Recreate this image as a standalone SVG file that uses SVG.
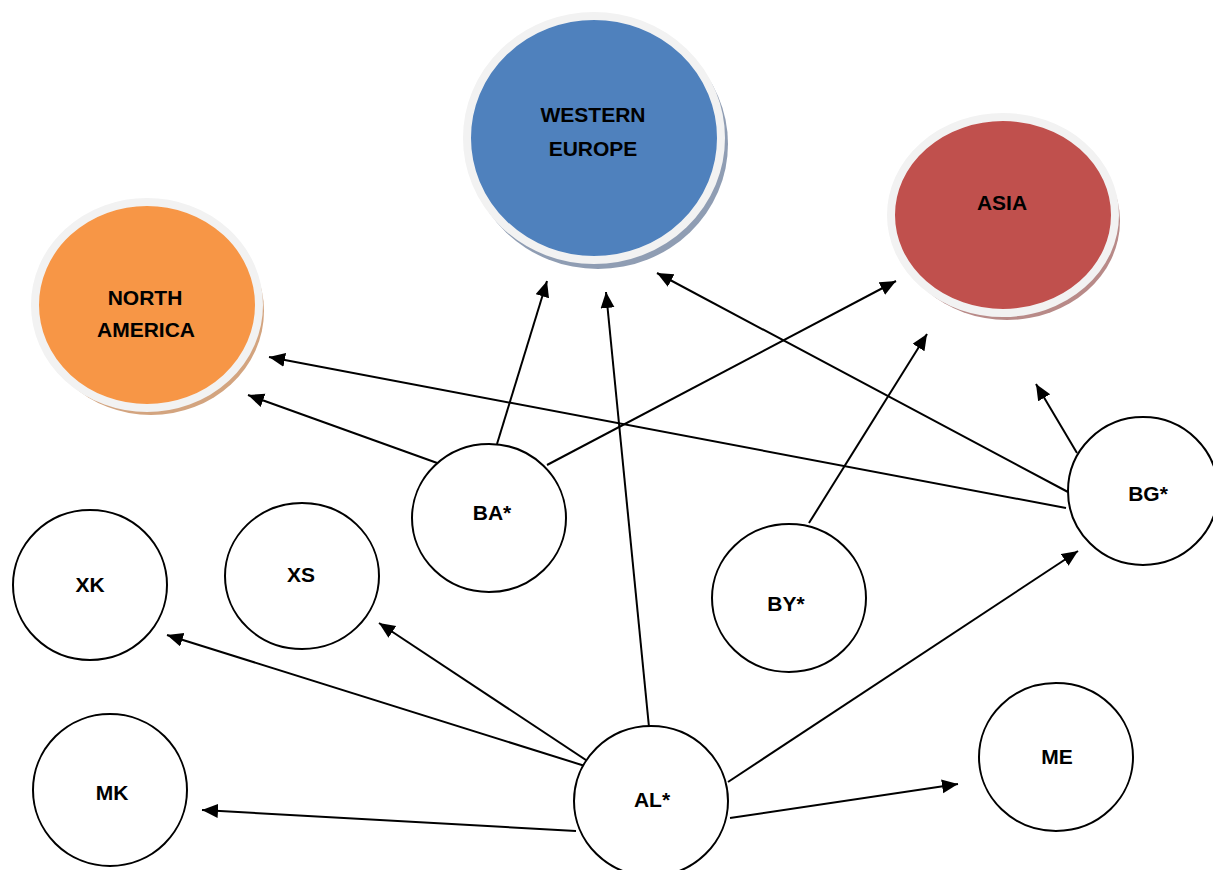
<svg xmlns="http://www.w3.org/2000/svg" width="1213" height="870" viewBox="0 0 1213 870">
<style>
.lbl{font-family:"Liberation Sans",Arial,sans-serif;font-weight:bold;font-size:21px;fill:#000;text-anchor:middle}
.small{fill:#fff;stroke:#000;stroke-width:2}
.ring{stroke:#f2f2f2;stroke-width:8}
.conn line{stroke:#000;stroke-width:2;marker-end:url(#ah)}
</style>
<defs>
<marker id="ah" markerUnits="userSpaceOnUse" markerWidth="17" markerHeight="15" refX="16" refY="7" orient="auto">
<path d="M0,0 L16,7 L0,14 z" fill="#000"/>
</marker>
</defs>
<rect width="1213" height="870" fill="#fff"/>

<g id="western-europe">
<ellipse cx="598" cy="144" rx="130" ry="125" fill="#8f9db3"/>
<ellipse cx="594" cy="138" rx="127" ry="122" fill="#4f81bd" class="ring"/>
<text class="lbl" x="593" y="122">WESTERN</text>
<text class="lbl" x="593" y="156">EUROPE</text>
</g>

<g id="north-america">
<ellipse cx="151" cy="311" rx="113" ry="104" fill="#d3a47f"/>
<ellipse cx="147" cy="305" rx="112" ry="103" fill="#f79646" class="ring"/>
<text class="lbl" x="145" y="305">NORTH</text>
<text class="lbl" x="146" y="337">AMERICA</text>
</g>

<g id="asia">
<ellipse cx="1007" cy="221" rx="113" ry="99" fill="#b88a88"/>
<ellipse cx="1003" cy="215" rx="112" ry="98" fill="#c0504d" class="ring"/>
<text class="lbl" x="1002" y="210">ASIA</text>
</g>

<g id="connectors" class="conn">
<line x1="440" y1="464" x2="248" y2="395"/>
<line x1="1066" y1="508" x2="269" y2="357"/>
<line x1="497" y1="444" x2="547" y2="281"/>
<line x1="547" y1="465" x2="896" y2="281"/>
<line x1="649" y1="727" x2="606" y2="292"/>
<line x1="1068" y1="492" x2="657" y2="273"/>
<line x1="809" y1="523" x2="927" y2="334"/>
<line x1="1077" y1="453" x2="1036" y2="384"/>
<line x1="585" y1="766" x2="167" y2="635"/>
<line x1="592" y1="764" x2="379" y2="623"/>
<line x1="576" y1="831" x2="202" y2="810"/>
<line x1="728" y1="782" x2="1078" y2="551"/>
<line x1="730" y1="818" x2="958" y2="784"/>
</g>

<g id="ba">
<ellipse class="small" cx="489" cy="518" rx="77" ry="74"/>
<text class="lbl" x="492" y="520">BA*</text>
</g>
<g id="xs">
<ellipse class="small" cx="302" cy="576" rx="77" ry="73"/>
<text class="lbl" x="301" y="582">XS</text>
</g>
<g id="xk">
<ellipse class="small" cx="90" cy="585" rx="77" ry="75"/>
<text class="lbl" x="90" y="592">XK</text>
</g>
<g id="mk">
<ellipse class="small" cx="110" cy="790" rx="77" ry="76"/>
<text class="lbl" x="112" y="800">MK</text>
</g>
<g id="al">
<ellipse class="small" cx="651" cy="801" rx="77" ry="75"/>
<text class="lbl" x="652" y="807">AL*</text>
</g>
<g id="by">
<ellipse class="small" cx="789" cy="598" rx="77" ry="74"/>
<text class="lbl" x="786" y="611">BY*</text>
</g>
<g id="bg">
<ellipse class="small" cx="1143" cy="491" rx="75" ry="74"/>
<text class="lbl" x="1148" y="501">BG*</text>
</g>
<g id="me">
<ellipse class="small" cx="1056" cy="757" rx="77" ry="74"/>
<text class="lbl" x="1057" y="764">ME</text>
</g>
</svg>
